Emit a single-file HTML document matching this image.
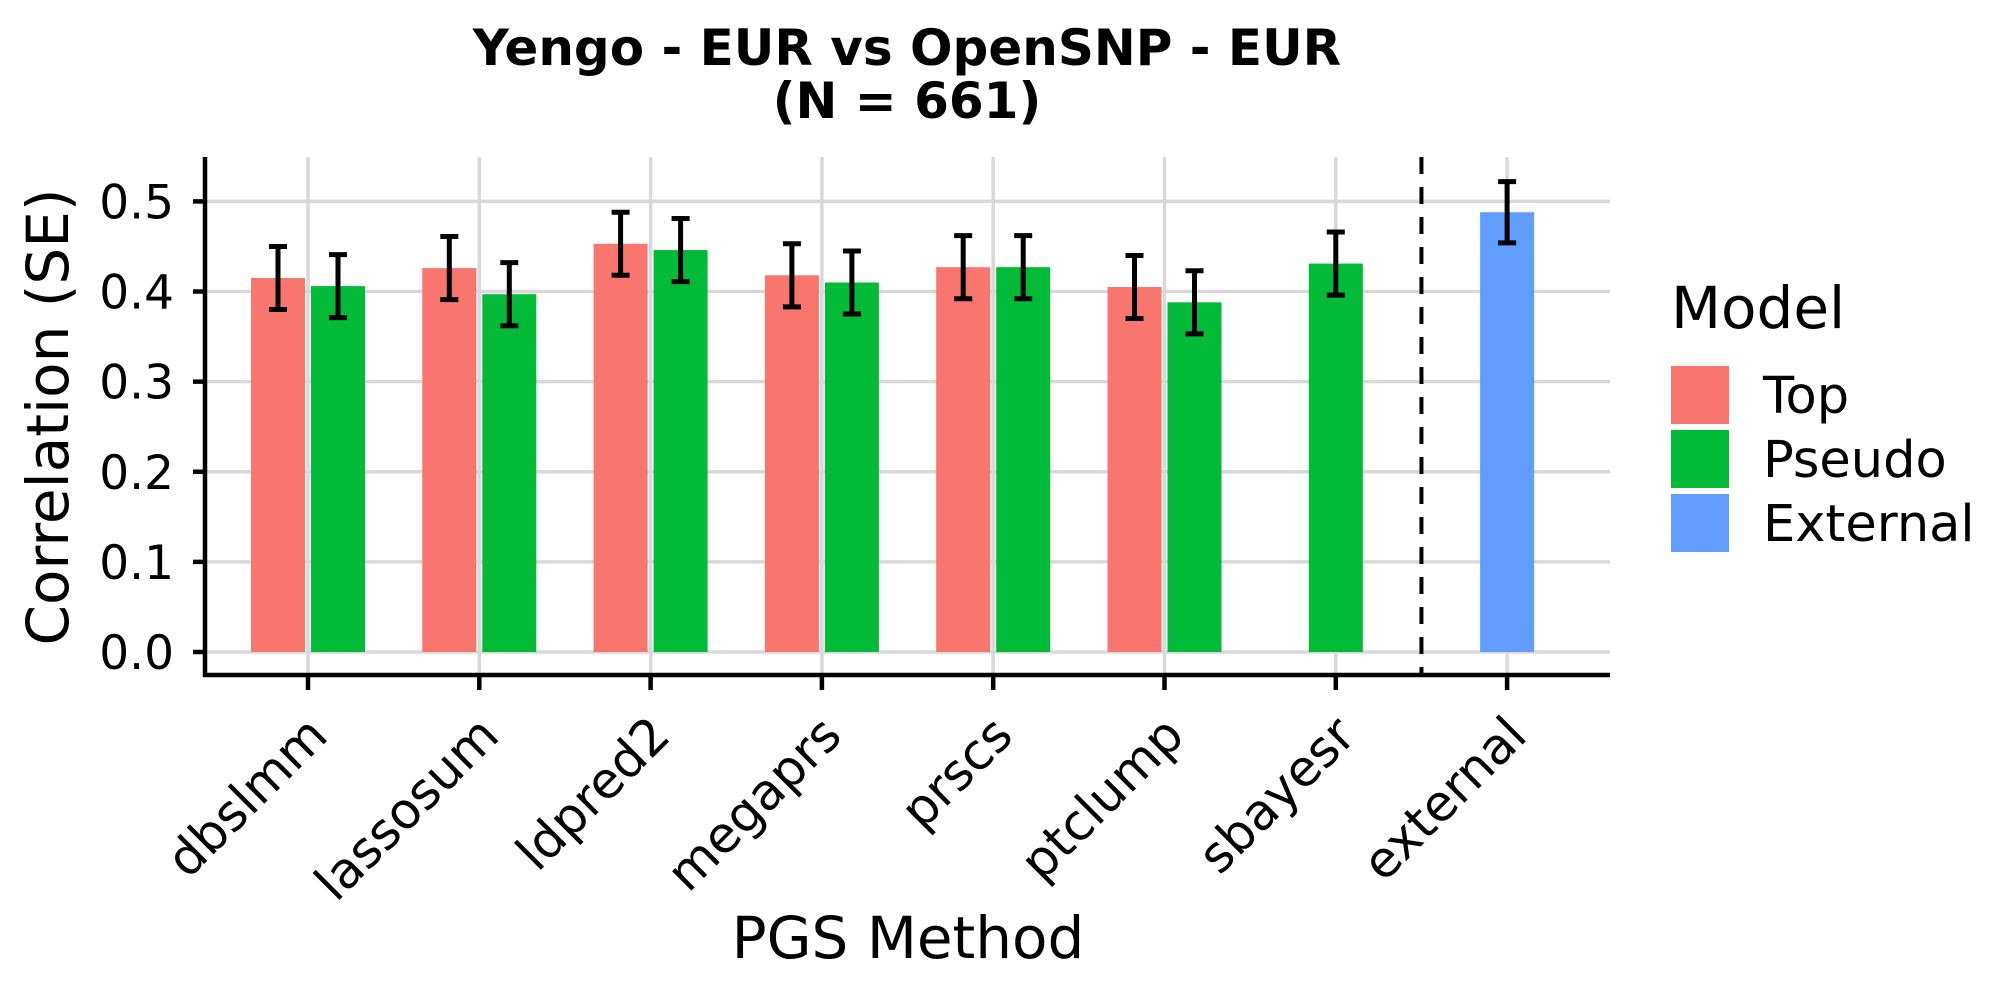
<!DOCTYPE html>
<html><head><meta charset="utf-8"><style>
html,body{margin:0;padding:0;background:#fff;}
svg{display:block;font-family:"DejaVu Sans","Liberation Sans",sans-serif;}
</style></head><body>
<svg id="chart" width="2000" height="1000" viewBox="0 0 2000 1000" xmlns="http://www.w3.org/2000/svg">
<text x="907" y="65" text-anchor="middle" font-weight="bold" font-size="50">Yengo - EUR vs OpenSNP - EUR</text>
<text x="907" y="118" text-anchor="middle" font-weight="bold" font-size="50">(N = 661)</text>
<g id="grid"></g><g id="bars"></g><g id="axes"></g>
<text transform="translate(68,417) rotate(-90)" text-anchor="middle" font-size="58">Correlation (SE)</text>
<text x="908" y="958" text-anchor="middle" font-size="58">PGS Method</text>
<g>
<text x="1671" y="328" font-size="58">Model</text>
<rect x="1671" y="366" width="58" height="58" fill="#F8766D"/>
<text x="1763" y="413" font-size="51">Top</text>
<rect x="1671" y="430" width="58" height="58" fill="#00BA38"/>
<text x="1763" y="477" font-size="51">Pseudo</text>
<rect x="1671" y="494" width="58" height="58" fill="#619CFF"/>
<text x="1763" y="541" font-size="51">External</text>
</g>
</svg>
<script>
const categories = ["dbslmm","lassosum","ldpred2","megaprs","prscs","ptclump","sbayesr","external"];
const topValues = [0.415,0.426,0.453,0.418,0.427,0.405,null,null];
const pseudoValues = [0.406,0.397,0.446,0.410,0.427,0.388,0.431,null];
const externalValues = [null,null,null,null,null,null,null,0.488];
const seValues = [0.035,0.035,0.035,0.035,0.035,0.035,0.035,0.034];
const pseudoSe = [0.035,0.035,0.035,0.035,0.035,0.035,0.035,null];
const yTicks = [0.0,0.1,0.2,0.3,0.4,0.5];
const yTickLabels = ["0.0","0.1","0.2","0.3","0.4","0.5"];

const NS="http://www.w3.org/2000/svg";
const X0=205, X1=1610, YTOP=157, YBOT=675;
const y=v=>652-v*901.2;
const x=i=>308+i*171.3;
const BW=54, OFF=30;
function mk(tag,attrs,parent){const e=document.createElementNS(NS,tag);for(const k in attrs)e.setAttribute(k,attrs[k]);parent.appendChild(e);return e;}
const grid=document.getElementById('grid'), bars=document.getElementById('bars'), axes=document.getElementById('axes');
yTicks.forEach((t,i)=>{
  const g=mk('line',{x1:X0,x2:X1,y1:y(t),y2:y(t),stroke:'#d9d9d9','stroke-width':3.5},grid);
  
  
  const tk=mk('line',{x1:X0-12,x2:X0,y1:y(t),y2:y(t),stroke:'#000','stroke-width':4.5},axes);
  
  
  const tl=mk('text',{x:174,y:y(t)+17,'text-anchor':'end','font-size':47},axes);
  tl.textContent=yTickLabels[i];
  
  
});
categories.forEach((c,i)=>{
  const g=mk('line',{x1:x(i),x2:x(i),y1:YTOP,y2:YBOT,stroke:'#d9d9d9','stroke-width':3.5},grid);
  
  
  const tk=mk('line',{x1:x(i),x2:x(i),y1:YBOT,y2:YBOT+15,stroke:'#000','stroke-width':4.5},axes);
  
  
  const tl=mk('text',{'text-anchor':'end','font-size':50,transform:`translate(${x(i)+22},738) rotate(-45)`},axes);
  tl.textContent=c;
  
  
});
function bar(cx,v,se,color,name){
  const r=mk('rect',{x:cx-BW/2,y:y(v),width:BW,height:y(0)-y(v),fill:color},bars);
  
  
  const e=mk('path',{d:`M${cx},${y(v+se)}V${y(v-se)}M${cx-9},${y(v+se)}h18M${cx-9},${y(v-se)}h18`,stroke:'#000','stroke-width':5,fill:'none'},bars);
  
  
}
categories.forEach((c,i)=>{
  const hasTop=topValues[i]!=null, hasPs=pseudoValues[i]!=null;
  if(hasTop&&hasPs){
    bar(x(i)-OFF,topValues[i],seValues[i],'#F8766D','bar-top-'+c);
    bar(x(i)+OFF,pseudoValues[i],pseudoSe[i],'#00BA38','bar-pseudo-'+c);
  } else if(hasPs){
    bar(x(i),pseudoValues[i],pseudoSe[i],'#00BA38','bar-pseudo-'+c);
  }
  if(externalValues[i]!=null) bar(x(i),externalValues[i],seValues[i],'#619CFF','bar-external-'+c);
});
const d=mk('line',{x1:x(6.5),x2:x(6.5),y1:YTOP,y2:YBOT,stroke:'#000','stroke-width':4,'stroke-dasharray':'17,13'},bars);


const ya=mk('line',{x1:X0,x2:X0,y1:YTOP,y2:YBOT+2,stroke:'#000','stroke-width':4.5},axes);


const xa=mk('line',{x1:X0-2,x2:X1,y1:YBOT,y2:YBOT,stroke:'#000','stroke-width':4.5},axes);


</script>
</body></html>
